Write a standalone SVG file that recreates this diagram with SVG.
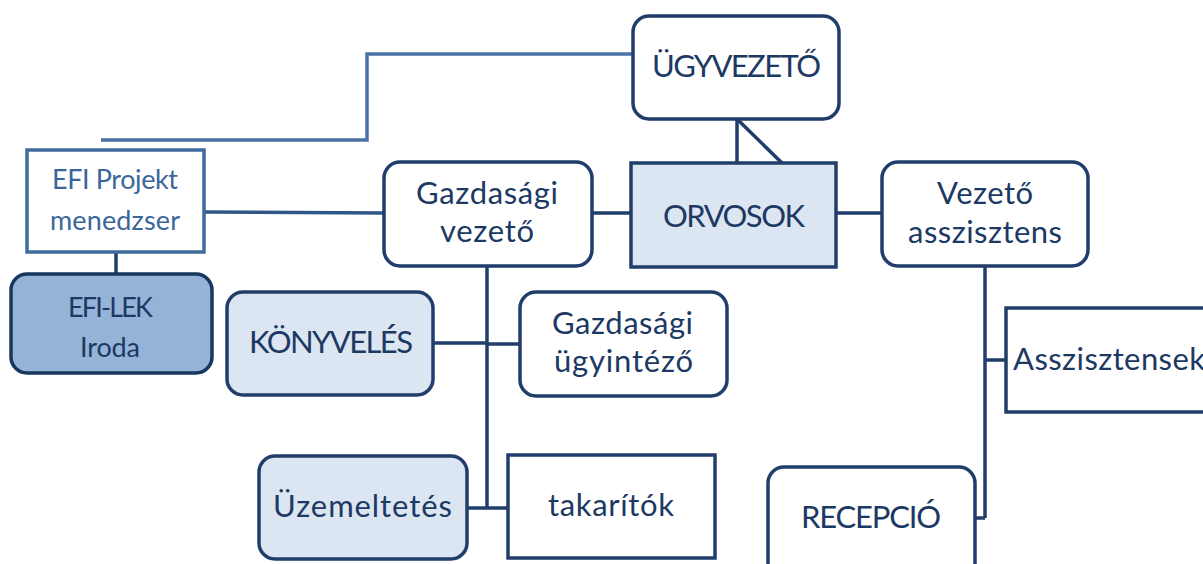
<svg xmlns="http://www.w3.org/2000/svg" width="1203" height="564" viewBox="0 0 1203 564">
<style>
.t{font-family:Lato,"Open Sans","Liberation Sans",sans-serif;font-size:31px;fill:#1c3963}
.s{font-family:Lato,"Open Sans","Liberation Sans",sans-serif;font-size:27px;fill:#3b6699}
.b{fill:#ffffff;stroke:#213e6b;stroke-width:3.5}
.lb{fill:#dce6f2;stroke:#213e6b;stroke-width:3.5}
.c{fill:none;stroke:#213e6b;stroke-width:3.5}
</style>
<rect width="1203" height="564" fill="#ffffff"/>
<g id="connectors">
<polyline points="101,140 367,140 367,54 633,54" fill="none" stroke="#4a72a6" stroke-width="3.5"/>
<line x1="204" y1="212" x2="384" y2="213" fill="none" stroke="#2f5687" stroke-width="3.5"/>
<line x1="116" y1="252" x2="116" y2="273" class="c"/>
<line x1="737" y1="119" x2="737" y2="163" class="c"/>
<line x1="737" y1="119" x2="782" y2="163" class="c"/>
<line x1="592" y1="213" x2="631" y2="213" class="c"/>
<line x1="836" y1="213" x2="882" y2="213" class="c"/>
<line x1="487" y1="266" x2="487" y2="508" class="c"/>
<line x1="433" y1="343" x2="487" y2="343" class="c"/>
<line x1="487" y1="344" x2="520" y2="344" class="c"/>
<line x1="467" y1="508" x2="508" y2="508" class="c"/>
<line x1="985" y1="266" x2="985" y2="518" class="c"/>
<line x1="985" y1="360" x2="1006" y2="360" class="c"/>
<line x1="975" y1="518" x2="985" y2="518" class="c"/>
</g>
<g id="ugyvezeto">
<rect x="633" y="16" width="206" height="103" rx="16" class="b"/>
<text x="652" y="77" textLength="169" class="t">ÜGYVEZETŐ</text>
</g>
<g id="efi-projekt">
<rect x="27" y="150" width="177" height="102" fill="#ffffff" stroke="#3f6a9e" stroke-width="3.5"/>
<text x="52" y="189" textLength="126" class="s">EFI Projekt</text>
<text x="50" y="230" textLength="130" class="s">menedzser</text>
</g>
<g id="efi-lek">
<rect x="11" y="274" width="201" height="99" rx="16" fill="#95b3d7" stroke="#17375e" stroke-width="3.5"/>
<text x="68" y="317" textLength="85" class="t" style="font-size:27px">EFI-LEK</text>
<text x="80" y="357" textLength="60" class="t" style="font-size:27px">Iroda</text>
</g>
<g id="gazdasagi-vezeto">
<rect x="384" y="162" width="208" height="104" rx="16" class="b"/>
<text x="416" y="204" textLength="142" class="t">Gazdasági</text>
<text x="440" y="242" textLength="94" class="t">vezető</text>
</g>
<g id="orvosok">
<rect x="631" y="163" width="205" height="104" class="lb"/>
<text x="663" y="227" textLength="142" class="t">ORVOSOK</text>
</g>
<g id="vezeto-asszisztens">
<rect x="882" y="162" width="206" height="104" rx="16" class="b"/>
<text x="937" y="204" textLength="96" class="t">Vezető</text>
<text x="908" y="243" textLength="154" class="t">asszisztens</text>
</g>
<g id="konyveles">
<rect x="227" y="292" width="206" height="103" rx="16" class="lb"/>
<text x="249" y="353" textLength="164" class="t">KÖNYVELÉS</text>
</g>
<g id="gazdasagi-ugyintezo">
<rect x="520" y="292" width="207" height="104" rx="16" class="b"/>
<text x="552" y="334" textLength="141" class="t">Gazdasági</text>
<text x="554" y="372" textLength="139" class="t">ügyintéző</text>
</g>
<g id="asszisztensek">
<rect x="1006" y="308" width="210" height="104" class="b"/>
<text x="1013" y="370" textLength="192" class="t">Asszisztensek</text>
</g>
<g id="uzemeltetes">
<rect x="259" y="456" width="208" height="103" rx="16" class="lb"/>
<text x="273" y="517" textLength="179" class="t">Üzemeltetés</text>
</g>
<g id="takaritok">
<rect x="508" y="455" width="207" height="103" class="b"/>
<text x="548" y="516" textLength="126" class="t">takarítók</text>
</g>
<g id="recepcio">
<rect x="768" y="467" width="207" height="115" rx="16" class="b"/>
<text x="801" y="528" textLength="140" class="t">RECEPCIÓ</text>
</g>
</svg>
